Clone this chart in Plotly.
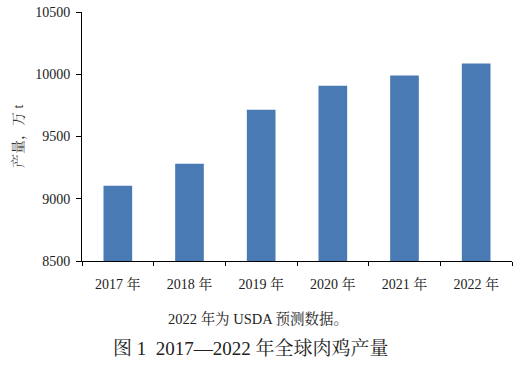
import plotly.graph_objects as go

categories = ["2017 年", "2018 年", "2019 年", "2020 年", "2021 年", "2022 年"]
values = [9104, 9281, 9715, 9908, 9989, 10086]
y_ticks = [8500, 9000, 9500, 10000, 10500]
y_tick_text = ["8500", "9000", "9500", "10000", "10500"]

serif = "Liberation Serif, 'Noto Serif CJK SC', 'Noto Sans CJK SC', serif"

fig = go.Figure(go.Bar(x=categories, y=values, marker=dict(color="#4a7ab3", line=dict(width=0))))

fig.update_layout(
    width=520, height=369,
    margin=dict(l=82, r=8, t=12, b=108),
    paper_bgcolor="white", plot_bgcolor="white",
    bargap=0.6,
    showlegend=False,
    font=dict(family=serif, size=14, color="#222"),
)
fig.update_xaxes(
    automargin=False,
    showline=True, linecolor="black", linewidth=1,
    ticks="outside", ticklen=4, tickcolor="black", tickson="boundaries",
    showgrid=False, tickfont=dict(size=14, color="#222"),
    ticklabelstandoff=10,
)
fig.update_yaxes(
    automargin=False,
    range=[8500, 10500], tickvals=y_ticks, ticktext=y_tick_text,
    showline=True, linecolor="black", linewidth=1,
    ticks="outside", ticklen=5, tickcolor="black",
    showgrid=False, zeroline=False, tickfont=dict(size=14, color="#222"),
    ticklabelstandoff=3,
)
fig.add_annotation(text="产量，万 t", xref="paper", yref="paper", textangle=-90,
                   x=-0.149, y=0.502, xanchor="center", yanchor="middle",
                   showarrow=False, font=dict(size=14, color="#333"))
fig.add_annotation(text="2022 年为 USDA 预测数据。", xref="paper", yref="paper",
                   x=0.409, y=-0.229, xanchor="center", yanchor="middle",
                   showarrow=False, font=dict(size=14.5, color="#222"))
fig.add_annotation(text="图 1\u00a0\u00a02017—2022 年全球肉鸡产量", xref="paper", yref="paper",
                   x=0.393, y=-0.353, xanchor="center", yanchor="middle",
                   showarrow=False, font=dict(size=19, color="#222"))

fig.write_html(
    "out.html",
    config={"displayModeBar": False},
    post_script="document.body.style.margin='0';document.body.style.overflow='hidden';",
)
